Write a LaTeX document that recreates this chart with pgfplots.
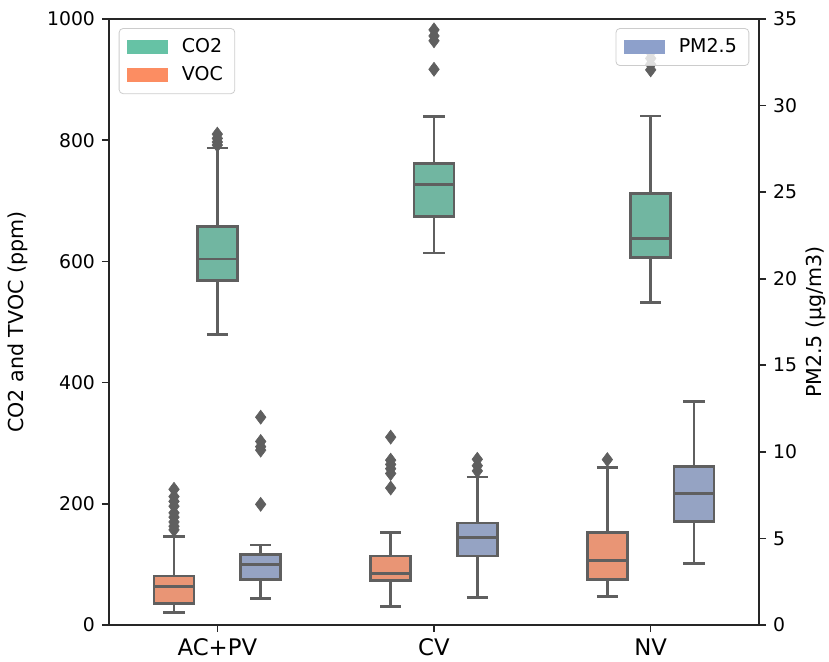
\documentclass[border=0pt]{standalone}
\usepackage{fontspec}
\setmainfont{DejaVu Sans}
\usepackage{pgfplots}
\pgfplotsset{compat=1.18}

\definecolor{bxteal}{HTML}{71B6A1}
\definecolor{bxorange}{HTML}{E99575}
\definecolor{bxblue}{HTML}{95A3C3}
\definecolor{lgteal}{HTML}{66C2A5}
\definecolor{lgorange}{HTML}{FC8D62}
\definecolor{lgblue}{HTML}{8DA0CB}
\definecolor{bxline}{HTML}{5F5F5F}

\pgfplotsset{
  bxl/.style={draw=bxline, line width=1.4pt, mark=none},
  outl/.style={only marks, mark=diamond*, mark size=3.5pt,
    mark options={fill=bxline, draw=bxline, line width=0.3pt}},
  basestyle/.style={
    at={(0,0)}, anchor=south west,
    scale only axis, width=325pt, height=303pt,
    xmin=-0.5, xmax=2.5,
    tick align=outside, major tick length=3.5pt,
    axis line style={black!85, line width=0.8pt},
    tick style={black!85, line width=0.8pt},
    /pgf/number format/assume math mode=true,
    /pgf/number format/1000 sep={},
    yticklabel style={font=\fontsize{9.4}{11}\selectfont},
    xticklabel style={font=\fontsize{11.4}{13}\selectfont},
    ylabel style={font=\fontsize{10.3}{12}\selectfont},
    legend style={draw=black!20, rounded corners=2pt, fill=white,
      fill opacity=0.8, text opacity=1,
      font=\fontsize{9.5}{11}\selectfont, row sep=1.5pt,
      inner xsep=4pt, inner ysep=3pt, cells={anchor=west},
      /tikz/every odd column/.append style={column sep=5pt}},
  },
  lgpatch/.style={legend image code/.code={\fill[#1, sharp corners, fill opacity=1] (0pt,-3.35pt) rectangle (20pt,3.35pt);}},
}

% box: position, lower whisker, Q1, median, Q3, upper whisker, fill colour
\newcommand{\bxp}[7]{%
  \pgfmathsetmacro{\bxL}{#1-0.0925}\pgfmathsetmacro{\bxR}{#1+0.0925}%
  \pgfmathsetmacro{\cpL}{#1-0.0485}\pgfmathsetmacro{\cpR}{#1+0.0485}%
  \addplot[bxl] coordinates {(#1,#2) (#1,#6)};
  \addplot[bxl] coordinates {(\cpL,#2) (\cpR,#2)};
  \addplot[bxl] coordinates {(\cpL,#6) (\cpR,#6)};
  \addplot[bxl, fill=#7, line cap=rect] coordinates {(\bxL,#3) (\bxR,#3) (\bxR,#5) (\bxL,#5) (\bxL,#3)};
  \addplot[bxl] coordinates {(\bxL,#4) (\bxR,#4)};
}

\begin{document}
\begin{tikzpicture}
\begin{axis}[basestyle,
    ymin=0, ymax=1000, ytick={0,200,400,600,800,1000},
    xtick={0,1,2}, xticklabels={AC+PV,CV,NV},
    xtick pos=bottom, ytick pos=left,
    ylabel={CO2 and TVOC (ppm)},
    ylabel style={at={(axis description cs:-0.14,0.5)}, anchor=center},
    legend style={at={(0.015,0.985)}, anchor=north west},
]
\addlegendimage{lgpatch=lgteal}\addlegendentry{CO2}
\addlegendimage{lgpatch=lgorange}\addlegendentry{VOC}
% CO2
\bxp{0}{480}{568}{604}{657}{787}{bxteal}
\addplot[outl] coordinates {(0,792) (0,797) (0,803) (0,810)};
\bxp{1}{614}{674}{727}{761}{839}{bxteal}
\addplot[outl] coordinates {(1,917) (1,964) (1,972) (1,982)};
\bxp{2}{532}{606}{638}{712}{840}{bxteal}
\addplot[outl] coordinates {(2,916) (2,925) (2,935) (2,945)};
% VOC
\bxp{-0.2}{20}{36}{63}{81}{146}{bxorange}
\addplot[outl] coordinates {(-0.2,157) (-0.2,163) (-0.2,170) (-0.2,178) (-0.2,185) (-0.2,196) (-0.2,204) (-0.2,212) (-0.2,224)};
\bxp{0.8}{31}{73}{85}{114}{153}{bxorange}
\addplot[outl] coordinates {(0.8,226) (0.8,250) (0.8,258) (0.8,265) (0.8,272) (0.8,310)};
\bxp{1.8}{47}{75}{106}{152}{260}{bxorange}
\addplot[outl] coordinates {(1.8,273)};
\end{axis}
\begin{axis}[basestyle,
    ymin=0, ymax=35, ytick={0,5,10,15,20,25,30,35},
    axis x line=none, axis y line*=right,
    ylabel={PM2.5 (µg/m3)},
    ylabel style={at={(axis description cs:1.087,0.5)}, anchor=center},
    legend style={at={(0.985,0.985)}, anchor=north east},
]
\addlegendimage{lgpatch=lgblue}\addlegendentry{PM2.5}
\bxp{0.2}{1.54}{2.64}{3.51}{4.08}{4.62}{bxblue}
\addplot[outl] coordinates {(0.2,6.97) (0.2,10.1) (0.2,10.3) (0.2,10.6) (0.2,12.0)};
\bxp{1.2}{1.58}{3.99}{5.06}{5.89}{8.55}{bxblue}
\addplot[outl] coordinates {(1.2,8.9) (1.2,9.2) (1.2,9.57)};
\bxp{2.2}{3.56}{5.97}{7.61}{9.15}{12.9}{bxblue}
\end{axis}
\pgfresetboundingbox
\path[use as bounding box] (-54.5pt,-18.5pt) rectangle (360pt,312.5pt);
\end{tikzpicture}
\end{document}
